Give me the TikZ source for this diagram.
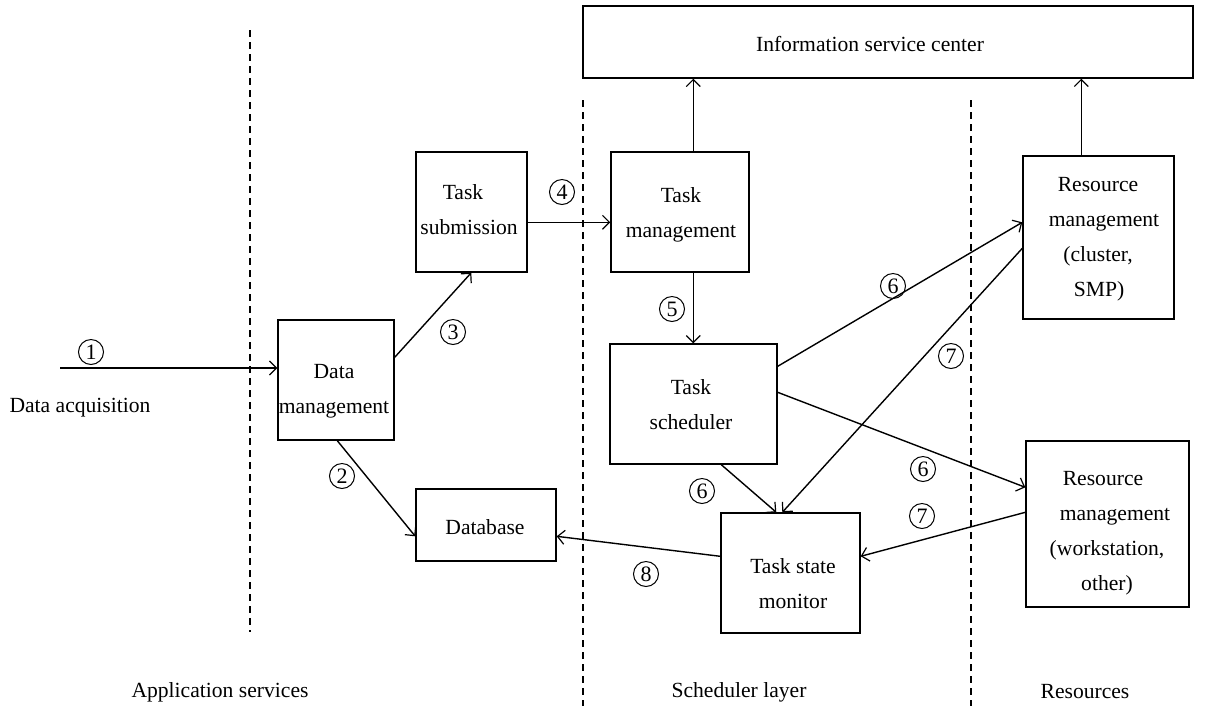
\documentclass[tikz,border=0pt]{standalone}
\usepackage{fontspec}
\setmainfont{Liberation Serif}
\usetikzlibrary{arrows.meta,calc}
\begin{document}
\begin{tikzpicture}[x=0.5pt,y=-0.5pt,
  font=\fontsize{10.8}{17.5}\selectfont,
  line width=0.7pt,
  >={Straight Barb[length=3.5pt,width=7pt,line width=0.6pt]},
  box/.style={draw,inner sep=0pt},
  txt/.style={inner sep=0pt,align=center},
  num/.style={draw,circle,line width=0.5pt,inner sep=0pt,minimum size=12.5pt,font=\fontsize{11}{11}\selectfont},
  sep/.style={dashed,dash pattern=on 3.5pt off 2.5pt,line width=0.6pt}]
\useasboundingbox (0,0) rectangle (1217,709);

% layer separators
\draw[sep] (250,30) -- (250,632);
\draw[sep] (583,100) -- (583,706);
\draw[sep] (971,100) -- (971,706);

% boxes
\node[box,minimum width=305pt,minimum height=36pt] (info) at (888,42) {};
\node[box,minimum width=55.5pt,minimum height=60pt] (tsub) at (471.5,212) {};
\node[box,minimum width=69pt,minimum height=60pt] (tmgmt) at (680,212) {};
\node[box,minimum width=75.5pt,minimum height=81.5pt] (rmc) at (1098.5,237.5) {};
\node[box,minimum width=58pt,minimum height=60pt] (dmgmt) at (336,380) {};
\node[box,minimum width=83.5pt,minimum height=60pt] (tsched) at (693.5,404) {};
\node[box,minimum width=70pt,minimum height=36pt] (db) at (486,525) {};
\node[box,minimum width=69.5pt,minimum height=60pt] (tsm) at (790.5,573) {};
\node[box,minimum width=81.5pt,minimum height=83pt] (rmw) at (1107.5,524) {};

% box texts
\node[txt] (info-t) at (870,44) {Information service center};
\node[txt] (tsub-t) at (469,210) {\hspace*{-6pt}Task\\submission};
\node[txt] (tmgmt-t) at (681,215) {Task\\management};
\node[txt] (rmc-t) at (1098,239) {Resource\\\hspace*{6pt}management\\(cluster,\hspace*{5pt}\\\hspace*{1pt}SMP)};
\node[txt] (dmgmt-t) at (334,391) {Data\\management};
\node[txt] (tsched-t) at (691,405) {Task\\scheduler};
\node[txt] (db-t) at (485,527) {Database};
\node[txt] (tsm-t) at (793,584) {Task state\\monitor};
\node[txt] (rmw-t) at (1107,533) {Resource\hspace*{4pt}\\\hspace*{8pt}management\\(workstation,\hspace*{4pt}\\other)};

% free text
\node[txt] (acq) at (80,408) {Data acquisition};
\node[txt] (app) at (220,692) {Application services};
\node[txt] (sch) at (739,692) {Scheduler layer};
\node[txt] (res) at (1085,692) {Resources};

% connectors
\coordinate (src) at (60,368);
\draw[->] (src) -- (src -| dmgmt.west);
\draw[->] ($(dmgmt.north east)+(0,38)$) -- ($(tsub.south west)+(56,0)$);
\draw[->] ($(dmgmt.south west)+(60,0)$) -- ($(db.north west)+(0,48)$);
\draw[->] ($(tsub.north east)+(0,71)$) -- ($(tmgmt.north west)+(0,71)$);
\draw[->] ($(tmgmt.north west)+(83,0)$) -- ($(info.south west)+(111,0)$);
\draw[->] ($(rmc.north west)+(59,0)$) -- ($(info.south west)+(499,0)$);
\draw[->] ($(tmgmt.south west)+(83,0)$) -- ($(tsched.north west)+(84,0)$);
\draw[->] ($(tsched.north east)+(0,23)$) -- ($(rmc.north west)+(0,67)$);
\draw[->] ($(rmc.north west)+(0,93)$) -- ($(tsm.north west)+(62,0)$);
\draw[->] ($(tsched.north east)+(0,49)$) -- ($(rmw.north west)+(0,47)$);
\draw[->] ($(tsched.south west)+(112,0)$) -- ($(tsm.north west)+(56,0)$);
\draw[->] ($(rmw.north west)+(0,72)$) -- ($(tsm.north east)+(0,44)$);
\draw[->] ($(tsm.north west)+(0,44)$) -- ($(db.north east)+(0,48)$);

% step numbers
\node[num] (n1) at (91,352) {1};
\node[num] (n2) at (342,476) {2};
\node[num] (n3) at (453,332) {3};
\node[num] (n4) at (562,192) {4};
\node[num] (n5) at (672,309) {5};
\node[num] (n6a) at (893,286) {6};
\node[num] (n7a) at (951,356) {7};
\node[num] (n6b) at (923,469) {6};
\node[num] (n6c) at (702,491) {6};
\node[num] (n7b) at (922,516) {7};
\node[num] (n8) at (646,574) {8};
\end{tikzpicture}
\end{document}
